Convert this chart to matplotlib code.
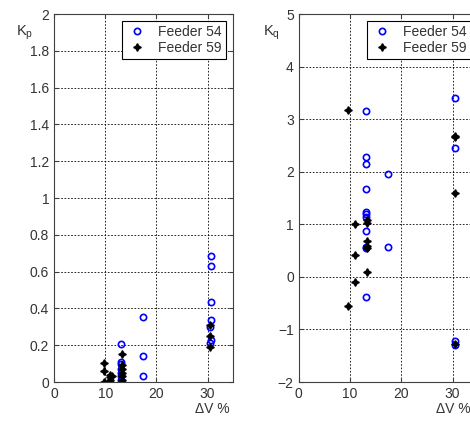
import numpy as np
import matplotlib
matplotlib.use('Agg')
from matplotlib import pyplot as plt

plt.rcParams['font.family'] = ['Liberation Sans', 'DejaVu Sans']

# Kp - feeder 54 (circulos azuis)
dv54_p = [13.1, 13.1, 13.1, 13.1, 13.1, 13.1, 13.1, 17.4, 17.4, 17.4,
          30.6, 30.7, 30.7, 30.7, 30.5, 30.6, 30.5]
kp54 = [0.205, 0.11, 0.10, 0.07, 0.05, 0.03, 0.01, 0.355, 0.143, 0.033,
        0.683, 0.632, 0.433, 0.335, 0.30, 0.227, 0.21]
# Kp - feeder 59 (estrelas pretas)
dv59_p = [9.7, 9.7, 9.7, 10.9, 10.9, 10.9, 10.9, 11.3,
          13.2, 13.2, 13.2, 13.2, 13.2, 13.2, 13.2, 30.4, 30.4, 30.4]
kp59 = [0.105, 0.058, 0.0, 0.04, 0.025, 0.01, 0.0, 0.03,
        0.15, 0.09, 0.07, 0.05, 0.03, 0.01, 0.0, 0.31, 0.25, 0.19]

# Kq - feeder 54
dv54_q = [13.1, 13.1, 13.2, 13.1, 13.1, 13.1, 13.1, 13.2, 13.2, 13.2, 13.1,
          17.4, 17.4, 30.4, 30.4, 30.4, 30.4]
kq54 = [3.15, 2.29, 2.15, 1.67, 1.23, 1.19, 1.14, 0.87, 0.57, 0.55, -0.38,
        1.96, 0.56, 3.41, 2.45, -1.22, -1.30]
# Kq - feeder 59
dv59_q = [9.7, 9.7, 10.9, 10.9, 10.9, 13.3, 13.3, 13.3, 13.3, 13.3, 13.3,
          30.4, 30.5, 30.4, 30.4]
kq59 = [3.17, -0.55, 1.0, 0.42, -0.10, 1.08, 1.03, 0.68, 0.58, 0.55, 0.10,
        2.68, 2.66, 1.60, -1.28]

star = (4, 1, 0)
cinza = '#404040'

fig = plt.figure(figsize=(4.7, 4.21), dpi=100)
ax1 = fig.add_axes([0.115, 0.0926, 0.381, 0.874])
ax2 = fig.add_axes([0.6355, 0.0926, 0.382, 0.874])

for ax in (ax1, ax2):
    ax.set_xlim(0, 35)
    ax.set_xticks([0, 10, 20, 30])
    ax.grid(True, color='black', linestyle=(0, (2, 2)), linewidth=0.6)
    ax.tick_params(direction='in', length=3, top=True, right=True,
                   labelsize=10, colors=cinza, labelcolor='#333333')
    for s in ax.spines.values():
        s.set_color(cinza)

ax1.plot(dv54_p, kp54, 'o', mfc='none', mec='blue', ms=4.5, mew=1.2, label='Feeder 54')
ax1.plot(dv59_p, kp59, marker=star, ls='none', color='black', ms=5.5, label='Feeder 59')
ax1.set_ylim(0, 2)
ax1.set_yticks(np.arange(0, 2.01, 0.2))
ax1.set_yticklabels(['0', '0.2', '0.4', '0.6', '0.8', '1', '1.2', '1.4', '1.6', '1.8', '2'])

ax2.plot(dv54_q, kq54, 'o', mfc='none', mec='blue', ms=4.5, mew=1.2, label='Feeder 54')
ax2.plot(dv59_q, kq59, marker=star, ls='none', color='black', ms=5.5, label='Feeder 59')
ax2.set_ylim(-2, 5)
ax2.set_yticks(range(-2, 6))

for ax in (ax1, ax2):
    leg = ax.legend(loc='upper right', fontsize=10, fancybox=False, framealpha=1,
                    edgecolor='black', borderpad=0.3, labelspacing=0.1,
                    handletextpad=0.8, borderaxespad=0.5, handlelength=1.5)
    leg.get_frame().set_linewidth(0.8)
    for t in leg.get_texts():
        t.set_color('#333333')

fig.text(0.035, 0.915, '$\\mathregular{K_p}$', fontsize=10.5, color='#333333')
fig.text(0.56, 0.915, '$\\mathregular{K_q}$', fontsize=10.5, color='#333333')
fig.text(0.415, 0.02, '\u0394V %', fontsize=10, color='#333333')
fig.text(0.928, 0.02, '\u0394V %', fontsize=10, color='#333333')

plt.savefig('out.png', dpi=100)
